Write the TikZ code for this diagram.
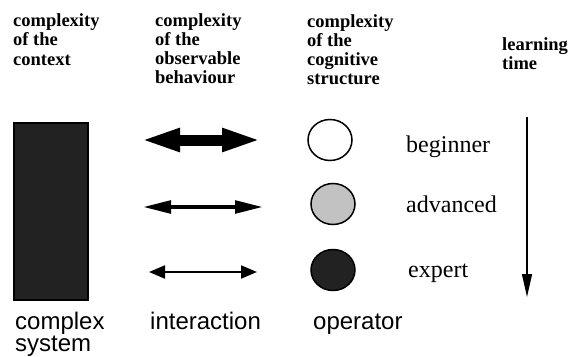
\documentclass[tikz,border=0pt]{standalone}
\usepackage{fontspec}
\setmainfont{Liberation Serif}
\setsansfont{Liberation Sans}
\usetikzlibrary{arrows.meta,shapes.geometric}
\definecolor{darkfill}{HTML}{222222}
\definecolor{midfill}{HTML}{C2C2C2}
\newcommand{\rimwidth}{1.5pt}

\begin{document}
\begin{tikzpicture}[x=1pt,y=-1pt,
    head/.style={anchor=north west, inner sep=0pt, align=left,
      font=\fontsize{18.5}{19.3}\selectfont\bfseries},
    foot/.style={anchor=base west, inner sep=0pt, align=left,
      font=\fontsize{24}{22}\selectfont\sffamily},
    level/.style={anchor=base west, inner sep=0pt,
      font=\fontsize{24}{28}\selectfont},
    mind/.style={draw, ellipse, line width=\rimwidth, minimum width=44pt,
      minimum height=41pt, inner sep=0pt}]
  \useasboundingbox (0,0) rectangle (570,356);

  % column headings
  \node (hcontext) at (13,13.5) [head] {complexity\\of the\\context};
  \node (hbehav) at (155,13) [head] {complexity\\of the\\observable\\behaviour};
  \node (hcog) at (307,14) [head] {complexity\\of the\\cognitive\\structure};
  \node (htime) at (502,37.5) [head] {learning\\time};

  % the system
  \node (system) at (51,211.5) [draw, fill=darkfill, line width=\rimwidth,
    minimum width=74pt, minimum height=177pt, inner sep=0pt] {};

  % interaction arrows
  \coordinate (i1l) at (140,140);
  \coordinate (i1r) at (262,140);
  \coordinate (i2l) at (143,207);
  \coordinate (i2r) at (263,207);
  \coordinate (i3l) at (149,272);
  \coordinate (i3r) at (257,272);
  \draw[line width=11pt, {Triangle[length=40pt,width=21pt]}-{Triangle[length=40pt,width=21pt]}]
    (i1l) -- (i1r);
  \draw[line width=4pt, {Triangle[length=28pt,width=12.5pt]}-{Triangle[length=28pt,width=12.5pt]}]
    (i2l) -- (i2r);
  \draw[line width=2pt, {Triangle[length=16pt,width=13pt]}-{Triangle[length=16pt,width=13pt]}]
    (i3l) -- (i3r);

  % operator states
  \node (beginner) at (330,140) [mind, fill=white] {};
  \node (advanced) at (333,204) [mind, fill=midfill] {};
  \node (expert) at (333,270) [mind, fill=darkfill] {};
  \node (lbeg) at (406,152) [level] {beginner};
  \node (ladv) at (406,212) [level] {advanced};
  \node (lexp) at (408,277) [level] {expert};

  % learning time
  \coordinate (tstart) at (527,117);
  \coordinate (tend) at (527,297);
  \draw[line width=1.5pt, -{Triangle[length=23pt,width=10pt]}] (tstart) -- (tend);

  % bottom labels
  \node (fsystem) at (15,351) [foot] {complex\\system};
  \node (finter) at (150,329) [foot] {interaction};
  \node (foper) at (313,329) [foot] {operator};
\end{tikzpicture}
\end{document}
